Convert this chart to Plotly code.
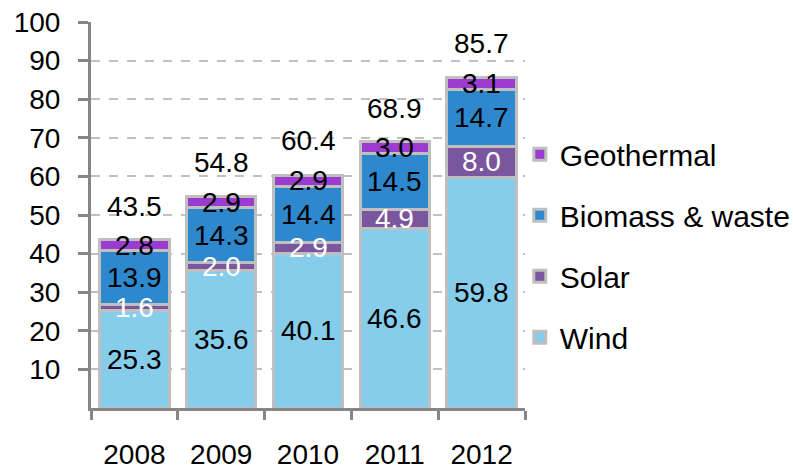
import plotly.graph_objects as go

years = ["2008", "2009", "2010", "2011", "2012"]
wind = [25.3, 35.6, 40.1, 46.6, 59.8]
solar = [1.6, 2.0, 2.9, 4.9, 8.0]
biomass = [13.9, 14.3, 14.4, 14.5, 14.7]
geothermal = [2.8, 2.9, 2.9, 3.0, 3.1]
totals = [43.5, 54.8, 60.4, 68.9, 85.7]
y_ticks = [10, 20, 30, 40, 50, 60, 70, 80, 90, 100]

series = [
    ("Wind", wind, "#85CDEA", "black", 4),
    ("Solar", solar, "#7A569E", "white", 3),
    ("Biomass & waste", biomass, "#2E88CE", "black", 2),
    ("Geothermal", geothermal, "#9B3BCF", "black", 1),
]

FONT = "Liberation Sans, Arial, sans-serif"
fig = go.Figure()
annotations = []
base = [0.0] * len(years)
for name, vals, color, tcolor, rank in series:
    fig.add_trace(go.Bar(
        x=years, y=vals, name=name, legendgroup=name, legendrank=rank,
        marker=dict(color=color, line=dict(color="#BFBFBF", width=3)),
        hoverinfo="skip",
    ))
    for i, v in enumerate(vals):
        annotations.append(dict(
            x=i, y=base[i] + v / 2, text=f"{v:.1f}", showarrow=False,
            font=dict(family=FONT, size=28, color=tcolor), yanchor="middle",
        ))
        base[i] += v

for i, t in enumerate(totals):
    annotations.append(dict(
        x=i, y=t, text=f"{t:.1f}", showarrow=False, yshift=34,
        font=dict(family=FONT, size=28, color="black"), yanchor="middle",
    ))

fig.update_layout(
    barmode="stack",
    bargap=0.2,
    width=793, height=469,
    margin=dict(l=91, r=268, t=22, b=61, autoexpand=False),
    paper_bgcolor="white", plot_bgcolor="white",
    font=dict(family=FONT, size=28, color="black"),
    annotations=annotations,
    showlegend=True,
    legend=dict(
        x=0.988, y=0.725, xanchor="left", yanchor="top",
        traceorder="grouped", tracegroupgap=19,
        font=dict(family=FONT, size=30, color="black"),
        itemwidth=30, bgcolor="rgba(0,0,0,0)",
    ),
    xaxis=dict(
        type="category", range=[-0.5, 4.5], showgrid=False, showline=True,
        linecolor="#868686", linewidth=3,
        ticks="outside", tickson="boundaries", ticklen=9, tickwidth=3, tickcolor="#868686",
        ticklabelstandoff=19, tickfont=dict(family=FONT, size=28, color="black"),
        zeroline=False, automargin=False,
    ),
    yaxis=dict(
        range=[0, 100], tickvals=y_ticks, showgrid=True, gridcolor="#C0C0C0", griddash="dash",
        gridwidth=2, showline=True, linecolor="#868686", linewidth=3, ticks="outside",
        ticklen=10, tickwidth=3, tickcolor="#868686", ticklabelstandoff=12,
        tickfont=dict(family=FONT, size=28, color="black"), zeroline=False, automargin=False,
    ),
)

fig.write_html("out.html")
